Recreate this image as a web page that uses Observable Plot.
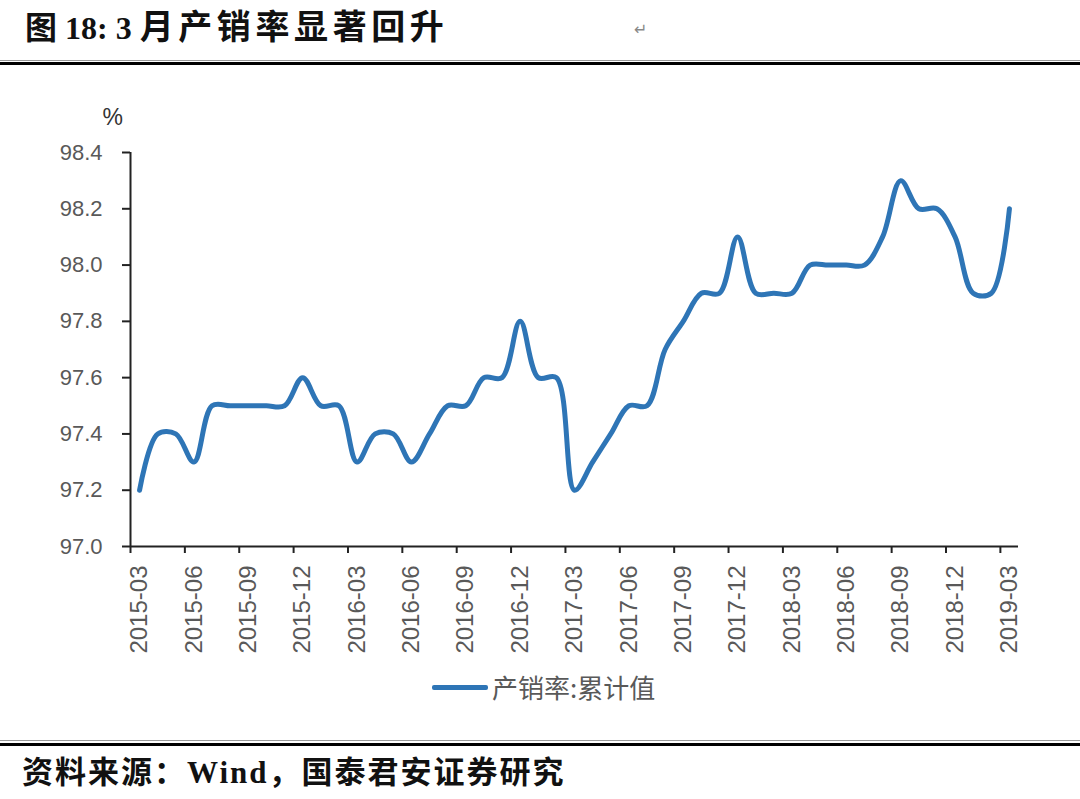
<!DOCTYPE html>
<html>
<head>
<meta charset="utf-8">
<script src="https://cdn.jsdelivr.net/npm/d3@7"></script>
<script src="https://cdn.jsdelivr.net/npm/@observablehq/plot@0.6"></script>
<style>
  html, body { margin: 0; padding: 0; background: #fff; }
  body { width: 1080px; height: 799px; position: relative; overflow: hidden; }
  .title { position: absolute; left: 25px; top: 8px; line-height: 40px; font-family: "Liberation Serif", "Noto Sans CJK SC", serif; font-weight: 700; font-size: 32px; color: #111; white-space: nowrap; }
  .title .cjk { font-size: 34px; letter-spacing: 4.6px; }
  .mark { position: absolute; left: 634px; top: 20px; font-family: "DejaVu Sans", sans-serif; font-size: 16px; color: #888; }
  .rule-top-thin { position: absolute; left: 0; top: 60px; width: 1080px; height: 1px; background: #999; }
  .rule-top { position: absolute; left: 0; top: 62px; width: 1080px; height: 3px; background: #000; }
  #chart { position: absolute; left: 0; top: 80px; }
  .legend { position: absolute; left: 432px; top: 672px; line-height: 30px; display: flex; align-items: center; font-family: "Noto Sans CJK SC", sans-serif; font-size: 26px; color: #595959; white-space: nowrap; }
  .legend .sw { width: 56px; height: 5px; background: #2e75b6; margin-right: 4px; border-radius: 2px; }
  .rule-bot { position: absolute; left: 0; top: 743px; width: 1080px; height: 3px; background: #000; }
  .rule-bot-thin { position: absolute; left: 0; top: 740px; width: 1080px; height: 1px; background: #999; }
  .source { position: absolute; left: 22px; top: 753px; line-height: 40px; font-family: "Liberation Serif", "Noto Sans CJK SC", serif; font-weight: 700; font-size: 31px; letter-spacing: 2px; color: #111; white-space: nowrap; }
</style>
</head>
<body>
<div class="title">图 18: 3 <span class="cjk">月产销率显著回升</span></div>
<div class="mark">↵</div>
<div class="rule-top-thin"></div>
<div class="rule-top"></div>
<div id="chart"></div>
<div class="legend"><span class="sw"></span><span>产销率:累计值</span></div>
<div class="rule-bot-thin"></div>
<div class="rule-bot"></div>
<div class="source">资料来源：Wind，国泰君安证券研究</div>
<script>
// Monthly data, 2015-03 .. 2019-03 (产销率: 累计值, %)
const months = [
  "2015-03","2015-04","2015-05","2015-06","2015-07","2015-08","2015-09","2015-10","2015-11","2015-12",
  "2016-01","2016-02","2016-03","2016-04","2016-05","2016-06","2016-07","2016-08","2016-09","2016-10",
  "2016-11","2016-12","2017-01","2017-02","2017-03","2017-04","2017-05","2017-06","2017-07","2017-08",
  "2017-09","2017-10","2017-11","2017-12","2018-01","2018-02","2018-03","2018-04","2018-05","2018-06",
  "2018-07","2018-08","2018-09","2018-10","2018-11","2018-12","2019-01","2019-02","2019-03"
];
const values = [
  97.2, 97.4, 97.4, 97.3, 97.5, 97.5, 97.5, 97.5, 97.5, 97.6,
  97.5, 97.5, 97.3, 97.4, 97.4, 97.3, 97.4, 97.5, 97.5, 97.6,
  97.6, 97.8, 97.6, 97.6, 97.2, 97.3, 97.4, 97.5, 97.5, 97.7,
  97.8, 97.9, 97.9, 98.1, 97.9, 97.9, 97.9, 98.0, 98.0, 98.0,
  98.0, 98.1, 98.3, 98.2, 98.2, 98.1, 97.9, 97.9, 98.2
];
const yTicks = [97.0, 97.2, 97.4, 97.6, 97.8, 98.0, 98.2, 98.4];
const tickLabels = ["2015-03","2015-06","2015-09","2015-12","2016-03","2016-06","2016-09","2016-12",
  "2017-03","2017-06","2017-09","2017-12","2018-03","2018-06","2018-09","2018-12","2019-03"];

const data = months.map((m, i) => ({i, m, v: values[i]}));
const labelIdx = tickLabels.map(l => months.indexOf(l));
const tickBounds = labelIdx.map(i => i - 0.5);

const chart = Plot.plot({
  width: 1080,
  height: 580,
  marginLeft: 130,
  marginRight: 62,
  marginTop: 72,
  marginBottom: 114,
  style: {fontFamily: "Liberation Sans, Arial, sans-serif", background: "transparent"},
  x: {type: "linear", domain: [-0.5, months.length - 0.5]},
  y: {domain: [97.0, 98.4]},
  marks: [
    Plot.axisY({ticks: yTicks, tickSize: 8, tickPadding: 20, tickFormat: d => d.toFixed(1),
      fontSize: 22, stroke: "#222", strokeWidth: 2, fill: "#595959", label: null}),
    Plot.axisX({ticks: tickBounds, tickSize: 7, tickFormat: () => "", stroke: "#222", strokeWidth: 2, label: null}),
    Plot.axisX({ticks: labelIdx, tickSize: 0, tickPadding: 19, tickRotate: -90,
      tickFormat: i => months[i], fontSize: 24, fill: "#595959", label: null}),
    Plot.ruleX([-0.5], {stroke: "#222", strokeWidth: 2}),
    Plot.ruleY([97.0], {stroke: "#222", strokeWidth: 2}),
    Plot.text(["%"], {frameAnchor: "top-left", dx: -28, dy: -44, fontSize: 23, fill: "#333"}),
    Plot.line(data, {x: "i", y: "v", curve: "catmull-rom", stroke: "#2e75b6", strokeWidth: 5, strokeLinecap: "round", strokeLinejoin: "round"})
  ]
});
document.getElementById("chart").appendChild(chart);
</script>
</body>
</html>
